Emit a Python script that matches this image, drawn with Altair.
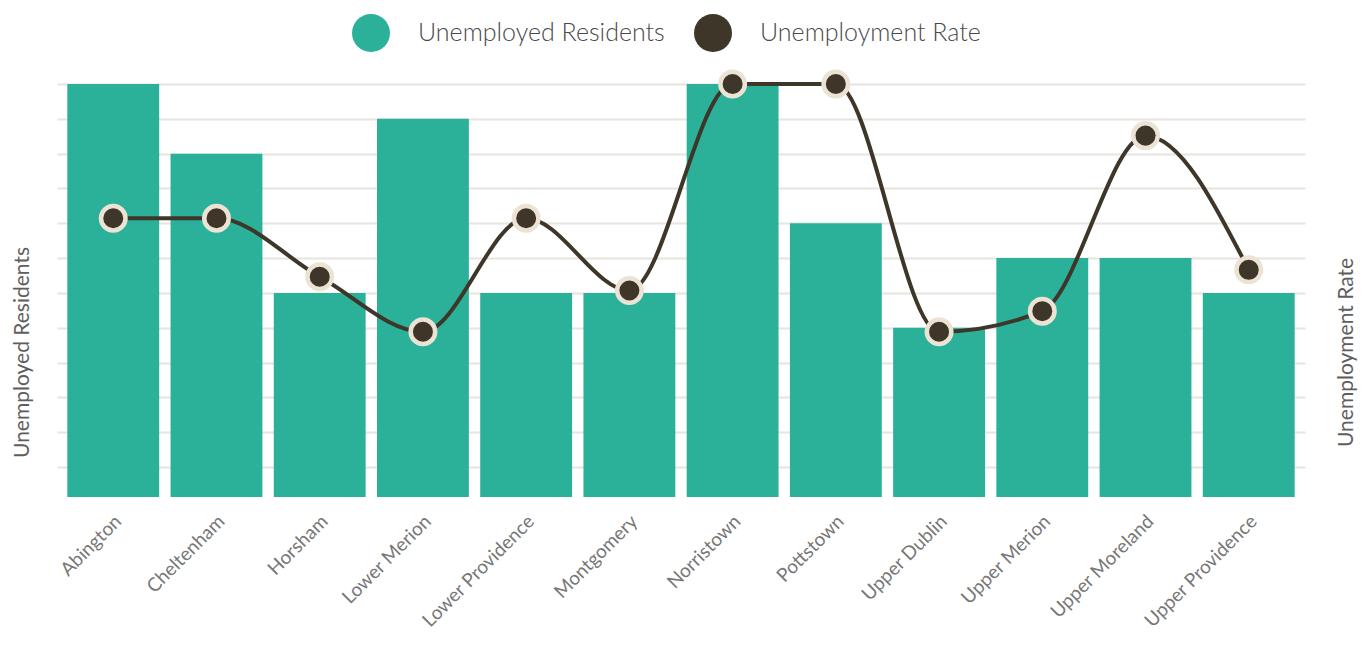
import altair as alt
import pandas as pd

towns = ["Abington", "Cheltenham", "Horsham", "Lower Merion", "Lower Providence",
         "Montgomery", "Norristown", "Pottstown", "Upper Dublin", "Upper Merion",
         "Upper Moreland", "Upper Providence"]
unemployed = [12, 10, 6, 11, 6, 6, 12, 8, 5, 7, 7, 6]
rate = [4.05, 4.05, 3.2, 2.4, 4.05, 3.0, 6.0, 6.0, 2.4, 2.7, 5.25, 3.3]
grid_values = [1, 2, 3, 4, 5, 6, 7, 8, 9, 10, 11, 12]

df = pd.DataFrame({"Town": towns, "Unemployed": unemployed, "Rate": rate})

TEAL = "#2bb19a"
DARK = "#3e3629"
BEIGE = "#ece3d4"
FONT = "Lato"

x = alt.X("Town:N", sort=towns, title=None,
          scale=alt.Scale(paddingInner=0.11, paddingOuter=0.1),
          axis=alt.Axis(labelAngle=-45, labelAlign="right", labelBaseline="middle",
                        labelPadding=21, labelOffset=5, labelFontSize=19, labelColor="#777777",
                        labelFont=FONT, labelFontWeight=400, labelLimit=0,
                        ticks=False, domain=False, grid=False))

color_scale = alt.Scale(domain=["Unemployed Residents", "Unemployment Rate"],
                        range=[TEAL, DARK])
color_legend = alt.Legend(title=None, orient="none", direction="horizontal",
                          legendX=295, legendY=-70, symbolType="circle",
                          symbolSize=1444, symbolStrokeWidth=0,
                          labelFontSize=25, labelFont=FONT, labelColor="#4a4a4a",
                          labelFontWeight=300, labelLimit=0,
                          labelOffset=28, columnPadding=29, symbolOpacity=1)

bars = alt.Chart(df).mark_bar(opacity=1).encode(
    x=x,
    y=alt.Y("Unemployed:Q", title="Unemployed Residents",
            scale=alt.Scale(domain=[0.14, 12], clamp=True, nice=False, zero=False),
            axis=alt.Axis(values=grid_values, labels=False, ticks=False, domain=False,
                          grid=True, gridColor="#e8e4de", gridWidth=2,
                          titleFont=FONT, titleFontSize=21, titleFontWeight=400,
                          titleColor="#5e5e5e", titleAngle=270, titleX=-35, titleY=268,
                          titleBaseline="middle", titleAlign="center")),
    color=alt.Color("series:N", scale=color_scale, legend=color_legend),
).transform_calculate(series="'Unemployed Residents'")

ry = alt.Y("Rate:Q", title="Unemployment Rate",
           scale=alt.Scale(domain=[0, 6], nice=False),
           axis=alt.Axis(orient="right", labels=False, ticks=False, domain=False, grid=False,
                         titleFont=FONT, titleFontSize=21, titleFontWeight=400,
                         titleColor="#5e5e5e", titleAngle=270, titleX=41, titleY=268,
                         titleBaseline="middle", titleAlign="center"))

line = alt.Chart(df).mark_line(color=DARK, strokeWidth=4, interpolate="monotone").encode(
    x=x, y=ry)

points = alt.Chart(df).mark_point(filled=True, size=600, stroke=BEIGE, strokeWidth=4.5,
                                  opacity=1, fillOpacity=1, shape="circle").encode(
    x=x, y=ry,
    color=alt.Color("series:N", scale=color_scale, legend=color_legend),
).transform_calculate(series="'Unemployment Rate'")

rate_layer = alt.layer(line, points)

chart = alt.layer(bars, rate_layer).resolve_scale(y="independent").properties(
    width=1248, height=413,
    autosize=alt.AutoSizeParams(type="none"),
    padding={"left": 49, "top": 76, "right": 55, "bottom": 141},
).configure(font=FONT).configure_view(strokeWidth=0, stroke=None)

chart.save("out.html", embed_options={"renderer": "svg", "actions": False})
